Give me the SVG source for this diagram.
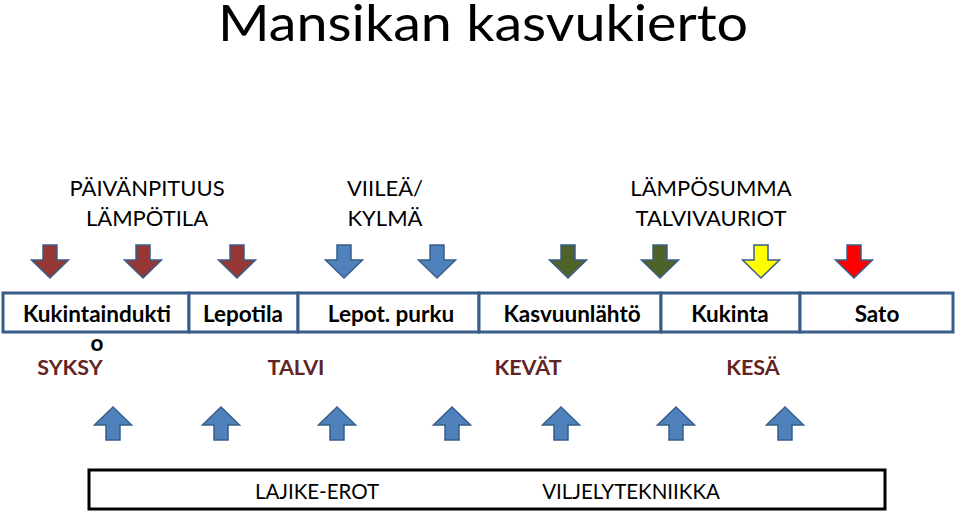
<svg xmlns="http://www.w3.org/2000/svg" xmlns:xlink="http://www.w3.org/1999/xlink" width="960" height="514" viewBox="0 0 960 514">
<style>
text{font-family:Lato,"Open Sans","Liberation Sans",sans-serif;text-anchor:middle;fill:#000}
.title{font-size:51px}
.top{font-size:22px}
.box{font-size:22.5px;font-weight:bold}
.season{font-size:21.5px;font-weight:bold;fill:#632523}
.bot{font-size:20.5px}
.cell{fill:#fff;stroke:#385d8a;stroke-width:3}
.bbox{fill:#fff;stroke:#000;stroke-width:3}
.arr{stroke:#385d8a;stroke-width:1.5}
</style>
<defs>
<path id="down" d="M-7,0 H7 V15 H18.5 L0,33 L-18.5,15 H-7 Z"/>
<path id="up" d="M-7,33 H7 V18 H18.5 L0,0 L-18.5,18 H-7 Z"/>
</defs>
<rect width="960" height="514" fill="#fff"/>
<text class="title" x="483" y="41" textLength="530" lengthAdjust="spacingAndGlyphs">Mansikan kasvukierto</text>
<g id="factors">
<text class="top" x="147" y="196">PÄIVÄNPITUUS</text>
<text class="top" x="147" y="226">LÄMPÖTILA</text>
<text class="top" x="385" y="196">VIILEÄ/</text>
<text class="top" x="385" y="226">KYLMÄ</text>
<text class="top" x="711" y="196">LÄMPÖSUMMA</text>
<text class="top" x="711" y="226">TALVIVAURIOT</text>
</g>
<g id="connectors">
<g class="arr" fill="#953735">
<use xlink:href="#down" x="50" y="245"/>
<use xlink:href="#down" x="143" y="245"/>
<use xlink:href="#down" x="237" y="245"/>
</g>
<g class="arr" fill="#4f81bd">
<use xlink:href="#down" x="344" y="245"/>
<use xlink:href="#down" x="437" y="245"/>
</g>
<g class="arr" fill="#4f6228">
<use xlink:href="#down" x="568" y="245"/>
<use xlink:href="#down" x="660" y="245"/>
</g>
<use class="arr" fill="#ffff00" xlink:href="#down" x="761" y="245"/>
<use class="arr" fill="#ff0000" xlink:href="#down" x="854" y="245"/>
<g class="arr" fill="#4f81bd">
<use xlink:href="#up" x="113" y="407"/>
<use xlink:href="#up" x="221" y="407"/>
<use xlink:href="#up" x="337" y="407"/>
<use xlink:href="#up" x="452" y="407"/>
<use xlink:href="#up" x="561" y="407"/>
<use xlink:href="#up" x="676" y="407"/>
<use xlink:href="#up" x="785" y="407"/>
</g>
</g>
<g id="stage-kukintainduktio">
<rect class="cell" x="3" y="293" width="186" height="39"/>
<text class="box" x="97" y="322">Kukintaindukti</text>
<text class="box" x="97" y="351">o</text>
</g>
<g id="stage-lepotila">
<rect class="cell" x="189" y="293" width="109" height="39"/>
<text class="box" x="243" y="322">Lepotila</text>
</g>
<g id="stage-lepot-purku">
<rect class="cell" x="298" y="293" width="181" height="39"/>
<text class="box" x="391" y="322">Lepot. purku</text>
</g>
<g id="stage-kasvuunlahto">
<rect class="cell" x="479" y="293" width="182" height="39"/>
<text class="box" x="572" y="322">Kasvuunlähtö</text>
</g>
<g id="stage-kukinta">
<rect class="cell" x="661" y="293" width="139" height="39"/>
<text class="box" x="730" y="322">Kukinta</text>
</g>
<g id="stage-sato">
<rect class="cell" x="800" y="293" width="153" height="39"/>
<text class="box" x="877" y="322">Sato</text>
</g>
<g id="seasons">
<text class="season" x="70" y="375">SYKSY</text>
<text class="season" x="296" y="375">TALVI</text>
<text class="season" x="528" y="375">KEVÄT</text>
<text class="season" x="753" y="375">KESÄ</text>
</g>
<g id="bottom-box">
<rect class="bbox" x="89" y="470" width="796" height="39"/>
<text class="bot" x="317" y="499">LAJIKE-EROT</text>
<text class="bot" x="631" y="499">VILJELYTEKNIIKKA</text>
</g>
</svg>
